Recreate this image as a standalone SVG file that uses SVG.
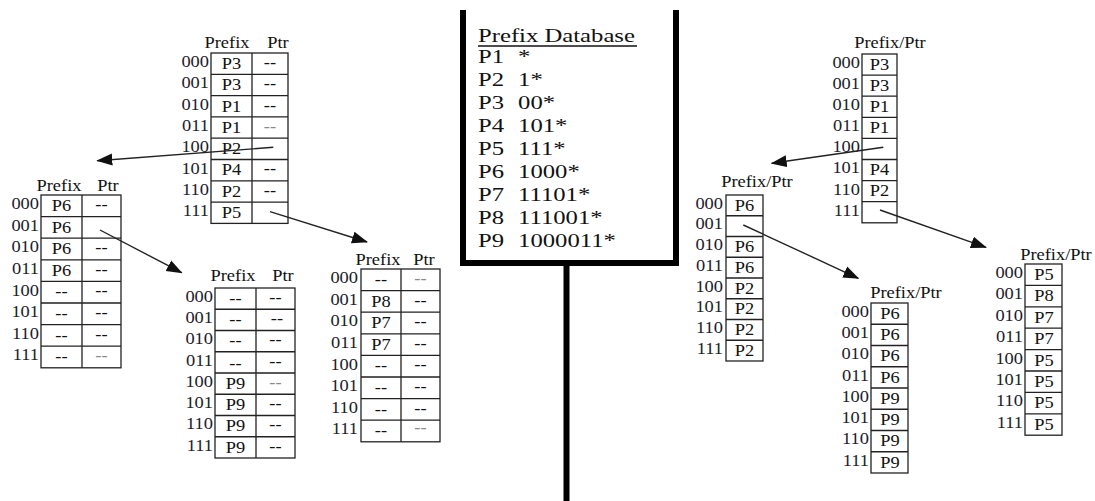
<svg xmlns="http://www.w3.org/2000/svg" width="1095" height="501" viewBox="0 0 1095 501">
  <style>
    text { font-family: "Liberation Serif", "Times New Roman", serif; }
    .lbl, .cell, .hd { font-size: 16px; transform-box: fill-box; transform: scaleX(1.15); }
    .lbl { fill: #1c1c2c; text-anchor: end; transform-origin: 100% 50%; }
    .cell, .hd { fill: #111; text-anchor: middle; transform-origin: 50% 50%; }
    .lt { fill: #8a8a8a; }
    .grid { fill: #fff; stroke: #222; stroke-width: 1.3; }
    .rl { stroke: #222; stroke-width: 1.3; }
    .db { font-size: 19px; fill: #111; }
    .box { fill: none; stroke: #000; stroke-width: 6; stroke-linejoin: miter; }
    .conn { stroke: #222; stroke-width: 1.4; fill: none; marker-end: url(#ah); }
  </style>
  <defs>
    <marker id="ah" markerUnits="userSpaceOnUse" markerWidth="16" markerHeight="14" viewBox="0 0 16 14" refX="15" refY="7" orient="auto">
      <path d="M0,1 L16,7 L0,13 z" fill="#111"/>
    </marker>
  </defs>
  <rect width="1095" height="501" fill="#fff"/>

  <!-- Prefix database panel -->
  <g id="prefix-database">
    <path class="box" d="M463,10 V263 H676 V10"/>
    <path class="box" d="M566.5,263 V501"/>
    <g transform="translate(478,0) scale(1.3,1)">
      <text class="db" x="0" y="42.5">Prefix Database</text>
      <text class="db" x="0" y="63">P1</text><text class="db" x="30.8" y="63">*</text>
      <text class="db" x="0" y="86">P2</text><text class="db" x="30.8" y="86">1*</text>
      <text class="db" x="0" y="109">P3</text><text class="db" x="30.8" y="109">00*</text>
      <text class="db" x="0" y="132">P4</text><text class="db" x="30.8" y="132">101*</text>
      <text class="db" x="0" y="155">P5</text><text class="db" x="30.8" y="155">111*</text>
      <text class="db" x="0" y="178">P6</text><text class="db" x="30.8" y="178">1000*</text>
      <text class="db" x="0" y="201">P7</text><text class="db" x="30.8" y="201">11101*</text>
      <text class="db" x="0" y="224">P8</text><text class="db" x="30.8" y="224">111001*</text>
      <text class="db" x="0" y="247">P9</text><text class="db" x="30.8" y="247">1000011*</text>
    </g>
    <line x1="478" y1="46" x2="637" y2="46" stroke="#111" stroke-width="1.5"/>
  </g>

  <!-- Left: root table (2 columns) -->
  <g id="root-table">
    <text class="hd" x="227" y="48">Prefix</text><text class="hd" x="278" y="48">Ptr</text>
    <rect class="grid" x="211" y="53" width="77" height="170.4"/>
    <path class="rl" d="M252,53 V223.4 M211,74.3 H288 M211,95.6 H288 M211,116.9 H288 M211,138.2 H288 M211,159.5 H288 M211,180.8 H288 M211,202.1 H288"/>
    <text class="lbl" x="209" y="67.1">000</text><text class="cell" x="231.5" y="69">P3</text><text class="cell" x="270" y="68">--</text>
    <text class="lbl" x="209" y="88.4">001</text><text class="cell" x="231.5" y="90.3">P3</text><text class="cell" x="270" y="89.3">--</text>
    <text class="lbl" x="209" y="109.7">010</text><text class="cell" x="231.5" y="111.6">P1</text><text class="cell" x="270" y="110.6">--</text>
    <text class="lbl" x="209" y="131">011</text><text class="cell" x="231.5" y="132.9">P1</text><text class="cell lt" x="270" y="131.9">--</text>
    <text class="lbl" x="209" y="152.3">100</text><text class="cell" x="231.5" y="154.2">P2</text>
    <text class="lbl" x="209" y="173.6">101</text><text class="cell" x="231.5" y="175.5">P4</text><text class="cell" x="270" y="174.5">--</text>
    <text class="lbl" x="209" y="194.9">110</text><text class="cell" x="231.5" y="196.8">P2</text><text class="cell" x="270" y="195.8">--</text>
    <text class="lbl" x="209" y="216.2">111</text><text class="cell" x="231.5" y="218.1">P5</text>
  </g>

  <!-- Left: second-level table for 100 -->
  <g id="table-100">
    <text class="hd" x="59" y="191.5">Prefix</text><text class="hd" x="108" y="191.5">Ptr</text>
    <rect class="grid" x="41" y="195" width="80" height="172.8"/>
    <path class="rl" d="M82,195 V367.8 M41,216.6 H121 M41,238.2 H121 M41,259.8 H121 M41,281.4 H121 M41,303 H121 M41,324.6 H121 M41,346.2 H121"/>
    <text class="lbl" x="39" y="209.2">000</text><text class="cell" x="61.5" y="211.1">P6</text><text class="cell" x="101.5" y="210.1">--</text>
    <text class="lbl" x="39" y="230.8">001</text><text class="cell" x="61.5" y="232.7">P6</text>
    <text class="lbl" x="39" y="252.4">010</text><text class="cell" x="61.5" y="254.3">P6</text><text class="cell" x="101.5" y="253.3">--</text>
    <text class="lbl" x="39" y="274">011</text><text class="cell" x="61.5" y="275.9">P6</text><text class="cell" x="101.5" y="274.9">--</text>
    <text class="lbl" x="39" y="295.6">100</text><text class="cell" x="61.5" y="297.5">--</text><text class="cell" x="101.5" y="296.5">--</text>
    <text class="lbl" x="39" y="317.2">101</text><text class="cell" x="61.5" y="319.1">--</text><text class="cell" x="101.5" y="318.1">--</text>
    <text class="lbl" x="39" y="338.8">110</text><text class="cell" x="61.5" y="340.7">--</text><text class="cell" x="101.5" y="339.7">--</text>
    <text class="lbl" x="39" y="360.4">111</text><text class="cell" x="61.5" y="362.3">--</text><text class="cell lt" x="101.5" y="361.3">--</text>
  </g>

  <!-- Left: third-level table for 100001 -->
  <g id="table-100001">
    <text class="hd" x="233" y="281">Prefix</text><text class="hd" x="283" y="281">Ptr</text>
    <rect class="grid" x="215" y="288" width="80" height="170"/>
    <path class="rl" d="M256,288 V458 M215,309.25 H295 M215,330.5 H295 M215,351.75 H295 M215,373 H295 M215,394.25 H295 M215,415.5 H295 M215,436.75 H295"/>
    <text class="lbl" x="213" y="302">000</text><text class="cell" x="235.5" y="303.9">--</text><text class="cell" x="275.5" y="302.9">--</text>
    <text class="lbl" x="213" y="323.3">001</text><text class="cell" x="235.5" y="325.2">--</text><text class="cell" x="277" y="324.2">--</text>
    <text class="lbl" x="213" y="344.5">010</text><text class="cell" x="235.5" y="346.4">--</text><text class="cell" x="275.5" y="345.4">--</text>
    <text class="lbl" x="213" y="365.8">011</text><text class="cell" x="235.5" y="369.5">--</text><text class="cell" x="275.5" y="366.7">--</text>
    <text class="lbl" x="213" y="387">100</text><text class="cell" x="235.5" y="388.9">P9</text><text class="cell lt" x="275.5" y="387.9">--</text>
    <text class="lbl" x="213" y="408.3">101</text><text class="cell" x="235.5" y="410.2">P9</text><text class="cell" x="275.5" y="409.2">--</text>
    <text class="lbl" x="213" y="429.5">110</text><text class="cell" x="235.5" y="431.4">P9</text><text class="cell" x="275.5" y="430.4">--</text>
    <text class="lbl" x="213" y="450.8">111</text><text class="cell" x="235.5" y="452.7">P9</text><text class="cell" x="275.5" y="451.7">--</text>
  </g>

  <!-- Left: second-level table for 111 -->
  <g id="table-111">
    <text class="hd" x="378" y="265">Prefix</text><text class="hd" x="424" y="265">Ptr</text>
    <rect class="grid" x="361" y="269" width="79" height="172.8"/>
    <path class="rl" d="M401,269 V441.8 M361,290.6 H440 M361,312.2 H440 M361,333.8 H440 M361,355.4 H440 M361,377 H440 M361,398.6 H440 M361,420.2 H440"/>
    <text class="lbl" x="358" y="283.2">000</text><text class="cell" x="381" y="285.1">--</text><text class="cell lt" x="420.5" y="284.1">--</text>
    <text class="lbl" x="358" y="304.8">001</text><text class="cell" x="381" y="306.7">P8</text><text class="cell" x="420.5" y="305.7">--</text>
    <text class="lbl" x="358" y="326.4">010</text><text class="cell" x="381" y="328.3">P7</text><text class="cell" x="420.5" y="327.3">--</text>
    <text class="lbl" x="358" y="348">011</text><text class="cell" x="381" y="349.9">P7</text><text class="cell" x="420.5" y="348.9">--</text>
    <text class="lbl" x="358" y="369.6">100</text><text class="cell" x="381" y="371.5">--</text><text class="cell" x="420.5" y="370.5">--</text>
    <text class="lbl" x="358" y="391.2">101</text><text class="cell" x="381" y="393.1">--</text><text class="cell" x="420.5" y="392.1">--</text>
    <text class="lbl" x="358" y="412.8">110</text><text class="cell" x="381" y="414.7">--</text><text class="cell" x="420.5" y="413.7">--</text>
    <text class="lbl" x="358" y="434.4">111</text><text class="cell" x="381" y="436.3">--</text><text class="cell lt" x="420.5" y="433.3">--</text>
  </g>

  <!-- Right: root table (single Prefix/Ptr column) -->
  <g id="root-table-compact">
    <text class="hd" x="890" y="48">Prefix/Ptr</text>
    <rect class="grid" x="862" y="54" width="35" height="168.8"/>
    <path class="rl" d="M862,75.1 H897 M862,96.2 H897 M862,117.3 H897 M862,138.4 H897 M862,159.5 H897 M862,180.6 H897 M862,201.7 H897"/>
    <text class="lbl" x="860" y="68">000</text><text class="cell" x="879.5" y="69.9">P3</text>
    <text class="lbl" x="860" y="89.1">001</text><text class="cell" x="879.5" y="91">P3</text>
    <text class="lbl" x="860" y="110.2">010</text><text class="cell" x="879.5" y="112.1">P1</text>
    <text class="lbl" x="860" y="131.3">011</text><text class="cell" x="879.5" y="133.2">P1</text>
    <text class="lbl" x="860" y="152.4">100</text>
    <text class="lbl" x="860" y="173.5">101</text><text class="cell" x="879.5" y="175.4">P4</text>
    <text class="lbl" x="860" y="194.6">110</text><text class="cell" x="879.5" y="196.5">P2</text>
    <text class="lbl" x="860" y="215.7">111</text>
  </g>

  <!-- Right: second-level table for 100 -->
  <g id="table-100-compact">
    <text class="hd" x="757" y="187">Prefix/Ptr</text>
    <rect class="grid" x="726" y="195" width="37" height="166"/>
    <path class="rl" d="M726,215.75 H763 M726,236.5 H763 M726,257.25 H763 M726,278 H763 M726,298.75 H763 M726,319.5 H763 M726,340.25 H763"/>
    <text class="lbl" x="723" y="208.8">000</text><text class="cell" x="744.5" y="210.7">P6</text>
    <text class="lbl" x="723" y="229.5">001</text>
    <text class="lbl" x="723" y="250.3">010</text><text class="cell" x="744.5" y="252.2">P6</text>
    <text class="lbl" x="723" y="271">011</text><text class="cell" x="744.5" y="272.9">P6</text>
    <text class="lbl" x="723" y="291.8">100</text><text class="cell" x="744.5" y="293.7">P2</text>
    <text class="lbl" x="723" y="312.5">101</text><text class="cell" x="744.5" y="314.4">P2</text>
    <text class="lbl" x="723" y="333.3">110</text><text class="cell" x="744.5" y="335.2">P2</text>
    <text class="lbl" x="723" y="354">111</text><text class="cell" x="744.5" y="355.9">P2</text>
  </g>

  <!-- Right: third-level table for 100001 -->
  <g id="table-100001-compact">
    <text class="hd" x="906" y="298">Prefix/Ptr</text>
    <rect class="grid" x="871" y="303" width="37" height="170"/>
    <path class="rl" d="M871,324.25 H908 M871,345.5 H908 M871,366.75 H908 M871,388 H908 M871,409.25 H908 M871,430.5 H908 M871,451.75 H908"/>
    <text class="lbl" x="869" y="317">000</text><text class="cell" x="890" y="318.9">P6</text>
    <text class="lbl" x="869" y="338.3">001</text><text class="cell" x="890" y="340.2">P6</text>
    <text class="lbl" x="869" y="359.5">010</text><text class="cell" x="890" y="361.4">P6</text>
    <text class="lbl" x="869" y="380.8">011</text><text class="cell" x="890" y="382.7">P6</text>
    <text class="lbl" x="869" y="402">100</text><text class="cell" x="890" y="403.9">P9</text>
    <text class="lbl" x="869" y="423.3">101</text><text class="cell" x="890" y="425.2">P9</text>
    <text class="lbl" x="869" y="444.5">110</text><text class="cell" x="890" y="446.4">P9</text>
    <text class="lbl" x="869" y="465.8">111</text><text class="cell" x="890" y="467.7">P9</text>
  </g>

  <!-- Right: second-level table for 111 -->
  <g id="table-111-compact">
    <text class="hd" x="1056" y="260">Prefix/Ptr</text>
    <rect class="grid" x="1025" y="264" width="37" height="171.2"/>
    <path class="rl" d="M1025,285.4 H1062 M1025,306.8 H1062 M1025,328.2 H1062 M1025,349.6 H1062 M1025,371 H1062 M1025,392.4 H1062 M1025,413.8 H1062"/>
    <text class="lbl" x="1023" y="278.1">000</text><text class="cell" x="1044" y="280">P5</text>
    <text class="lbl" x="1023" y="299.5">001</text><text class="cell" x="1044" y="301.4">P8</text>
    <text class="lbl" x="1023" y="320.9">010</text><text class="cell" x="1044" y="322.8">P7</text>
    <text class="lbl" x="1023" y="342.3">011</text><text class="cell" x="1044" y="344.2">P7</text>
    <text class="lbl" x="1023" y="363.7">100</text><text class="cell" x="1044" y="365.6">P5</text>
    <text class="lbl" x="1023" y="385.1">101</text><text class="cell" x="1044" y="387">P5</text>
    <text class="lbl" x="1023" y="406.5">110</text><text class="cell" x="1044" y="408.4">P5</text>
    <text class="lbl" x="1023" y="427.9">111</text><text class="cell" x="1044" y="429.8">P5</text>
  </g>

  <!-- Pointers from table entries to child tables -->
  <g id="connectors">
    <path class="conn" d="M273.3,147.3 L97.3,160.7"/>
    <path class="conn" d="M270,211.7 L367,242"/>
    <path class="conn" d="M100,230 L181.7,272.7"/>
    <path class="conn" d="M883.3,147.3 L771.7,163.3"/>
    <path class="conn" d="M880,210 L986,247.3"/>
    <path class="conn" d="M743.3,225 L858.3,278.3"/>
  </g>
</svg>
